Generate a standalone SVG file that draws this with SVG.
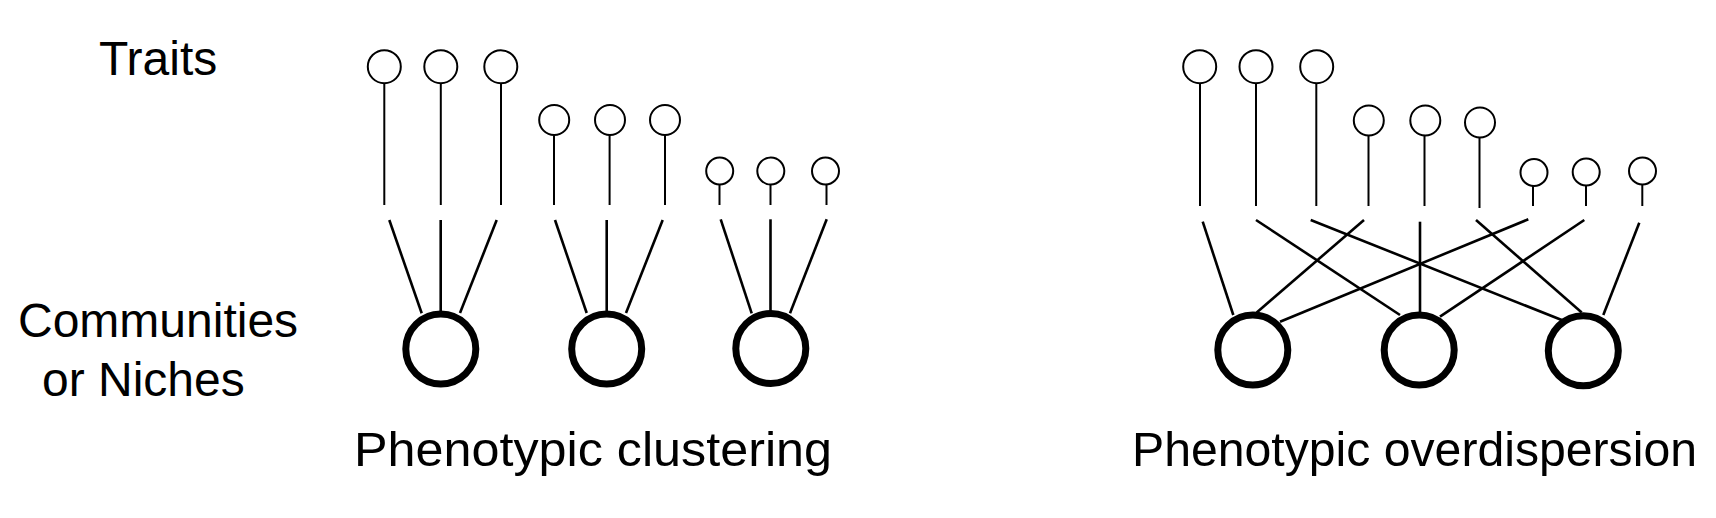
<svg xmlns="http://www.w3.org/2000/svg" width="1716" height="518" viewBox="0 0 1716 518">
<style>
.lbl{font-family:"Liberation Sans",Arial,sans-serif;font-size:48px;fill:#000}
.trait circle{fill:#fff;stroke:#000;stroke-width:2}
.trait line{stroke:#000;stroke-width:2}
.comm circle{fill:#fff;stroke:#000;stroke-width:7}
#connectors line{stroke:#000;stroke-width:2.6;stroke-linecap:butt}
</style>
<rect width="1716" height="518" fill="#fff"/>
<text class="lbl" x="99" y="75">Traits</text>
<text class="lbl" x="18" y="337">Communities</text>
<text class="lbl" x="42" y="396">or Niches</text>
<text class="lbl" x="354" y="466" textLength="478" lengthAdjust="spacingAndGlyphs">Phenotypic clustering</text>
<text class="lbl" x="1132" y="466" textLength="565" lengthAdjust="spacingAndGlyphs">Phenotypic overdispersion</text>

<g id="connectors">
<line x1="389.3" y1="220" x2="421.7" y2="313.3"/>
<line x1="440.7" y1="220" x2="440.7" y2="312"/>
<line x1="496.7" y1="220" x2="460" y2="313"/>
<line x1="555" y1="220" x2="586.7" y2="313"/>
<line x1="606.7" y1="220" x2="606.7" y2="312"/>
<line x1="662.7" y1="220" x2="626" y2="313"/>
<line x1="720.7" y1="219.3" x2="751.7" y2="313.3"/>
<line x1="770.5" y1="219.3" x2="770.5" y2="312"/>
<line x1="826.7" y1="219.3" x2="790" y2="313.3"/>
<line x1="1202.7" y1="221.7" x2="1233.3" y2="315"/>
<line x1="1256" y1="220" x2="1400" y2="315"/>
<line x1="1310.7" y1="220" x2="1561.7" y2="320"/>
<line x1="1364" y1="220" x2="1256.7" y2="312.5"/>
<line x1="1420" y1="221.7" x2="1420" y2="313"/>
<line x1="1476" y1="220" x2="1581.7" y2="312.5"/>
<line x1="1528.3" y1="219.3" x2="1280" y2="321.7"/>
<line x1="1584.3" y1="220" x2="1440" y2="316.7"/>
<line x1="1639.3" y1="222.7" x2="1603.3" y2="315"/>
</g>

<g id="t1" class="trait"><line x1="384.3" y1="83" x2="384.3" y2="205"/><circle cx="384.3" cy="66.7" r="16.5"/></g>
<g id="t2" class="trait"><line x1="440.8" y1="83" x2="440.8" y2="205"/><circle cx="440.8" cy="66.7" r="16.5"/></g>
<g id="t3" class="trait"><line x1="501" y1="83" x2="501" y2="205"/><circle cx="500.8" cy="66.7" r="16.5"/></g>
<g id="t4" class="trait"><line x1="554" y1="135" x2="554" y2="205"/><circle cx="554.2" cy="120" r="15"/></g>
<g id="t5" class="trait"><line x1="609.6" y1="135" x2="609.6" y2="205"/><circle cx="610" cy="120" r="15"/></g>
<g id="t6" class="trait"><line x1="665" y1="135" x2="665" y2="205"/><circle cx="665" cy="120" r="15"/></g>
<g id="t7" class="trait"><line x1="719.5" y1="184" x2="719.5" y2="205"/><circle cx="719.7" cy="171" r="13.5"/></g>
<g id="t8" class="trait"><line x1="770.5" y1="184" x2="770.5" y2="205"/><circle cx="770.8" cy="171" r="13.5"/></g>
<g id="t9" class="trait"><line x1="826.5" y1="184" x2="826.5" y2="205"/><circle cx="825.5" cy="171" r="13.5"/></g>

<g id="c1" class="comm"><circle cx="440.8" cy="349" r="35"/></g>
<g id="c2" class="comm"><circle cx="606.7" cy="349" r="35"/></g>
<g id="c3" class="comm"><circle cx="770.8" cy="348.5" r="35"/></g>

<g id="t10" class="trait"><line x1="1200" y1="83" x2="1200" y2="206"/><circle cx="1199.7" cy="66.7" r="16.5"/></g>
<g id="t11" class="trait"><line x1="1256" y1="83" x2="1256" y2="206"/><circle cx="1256" cy="66.7" r="16.5"/></g>
<g id="t12" class="trait"><line x1="1316.3" y1="83" x2="1316.3" y2="206"/><circle cx="1316.7" cy="66.7" r="16.5"/></g>
<g id="t13" class="trait"><line x1="1368.5" y1="135.5" x2="1368.5" y2="206"/><circle cx="1368.8" cy="120.5" r="15"/></g>
<g id="t14" class="trait"><line x1="1424.5" y1="135.5" x2="1424.5" y2="206"/><circle cx="1425.3" cy="120.5" r="15"/></g>
<g id="t15" class="trait"><line x1="1479.5" y1="137.5" x2="1479.5" y2="208"/><circle cx="1480" cy="122.5" r="15"/></g>
<g id="t16" class="trait"><line x1="1533" y1="186" x2="1533" y2="206"/><circle cx="1534" cy="172.5" r="13.5"/></g>
<g id="t17" class="trait"><line x1="1586" y1="185.5" x2="1586" y2="206"/><circle cx="1586.2" cy="172" r="13.5"/></g>
<g id="t18" class="trait"><line x1="1642.3" y1="184.5" x2="1642.3" y2="206"/><circle cx="1642.5" cy="171" r="13.5"/></g>

<g id="c4" class="comm"><circle cx="1252.8" cy="350" r="35"/></g>
<g id="c5" class="comm"><circle cx="1419.2" cy="350" r="35"/></g>
<g id="c6" class="comm"><circle cx="1583.3" cy="350.8" r="35"/></g>
</svg>
